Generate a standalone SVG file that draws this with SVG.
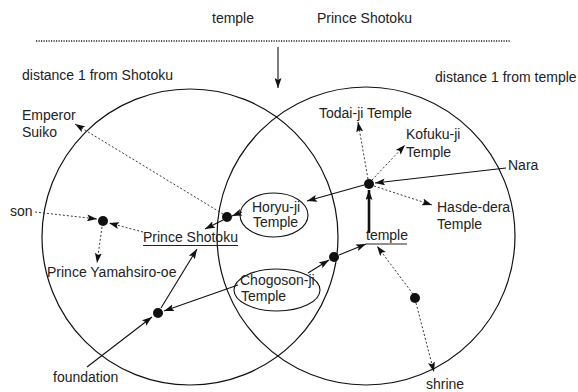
<svg xmlns="http://www.w3.org/2000/svg" width="578" height="392" viewBox="0 0 578 392">
<style>
text{font-family:"Liberation Sans",Arial,sans-serif;font-size:14px;fill:#222}
.c{fill:none;stroke:#111;stroke-width:1.2}
.s{fill:none;stroke:#111;stroke-width:1.1}
.d{fill:none;stroke:#222;stroke-width:0.9;stroke-dasharray:2 2}
.t{fill:none;stroke:#111;stroke-width:2.6}
.dot{fill:#111}
.u{stroke:#222;stroke-width:1}
</style>
<defs>
<marker id="ah" markerWidth="10" markerHeight="7" refX="10" refY="3.5" orient="auto" markerUnits="userSpaceOnUse">
<path d="M0,0 L10,3.5 L0,7 L2,3.5 z" fill="#111"/>
</marker>
</defs>
<g id="header">
<text x="212" y="23">temple</text>
<text x="317" y="23">Prince Shotoku</text>
<line x1="36" y1="41" x2="511" y2="41" stroke="#222" stroke-width="1.3" stroke-dasharray="1.2 1.3"/>
</g>
<g id="regions">
<circle class="c" cx="190" cy="237" r="148"/>
<circle class="c" cx="366" cy="236" r="149"/>
<text x="22" y="80">distance 1 from Shotoku</text>
<text x="435" y="82">distance 1 from temple</text>
</g>
<g id="connectors">
<line class="s" x1="278" y1="47" x2="278" y2="88" marker-end="url(#ah)"/>
<line class="d" x1="223" y1="214" x2="75" y2="124" marker-end="url(#ah)"/>
<line class="d" x1="35" y1="212" x2="97" y2="219" marker-end="url(#ah)"/>
<line class="d" x1="143" y1="232" x2="109" y2="223" marker-end="url(#ah)"/>
<line class="d" x1="102" y1="227" x2="97" y2="263" marker-end="url(#ah)"/>
<line class="s" x1="242" y1="212" x2="232" y2="216" marker-end="url(#ah)"/>
<line class="s" x1="223" y1="220" x2="205" y2="229" marker-end="url(#ah)"/>
<line class="s" x1="506" y1="168" x2="375" y2="183" marker-end="url(#ah)"/>
<line class="s" x1="364" y1="185" x2="307" y2="201" marker-end="url(#ah)"/>
<line class="t" x1="369" y1="233" x2="369" y2="190" marker-end="url(#ah)"/>
<line class="d" x1="368" y1="179" x2="358" y2="122" marker-end="url(#ah)"/>
<line class="d" x1="372" y1="180" x2="405" y2="145" marker-end="url(#ah)"/>
<line class="d" x1="374" y1="186" x2="432" y2="205" marker-end="url(#ah)"/>
<line class="s" x1="238" y1="285" x2="164" y2="311" marker-end="url(#ah)"/>
<line class="s" x1="161" y1="308" x2="197" y2="249" marker-end="url(#ah)"/>
<line class="s" x1="87" y1="367" x2="152" y2="317" marker-end="url(#ah)"/>
<line class="s" x1="308" y1="273" x2="329" y2="260" marker-end="url(#ah)"/>
<line class="s" x1="339" y1="255" x2="366" y2="244" marker-end="url(#ah)"/>
<line class="d" x1="413" y1="294" x2="377" y2="246" marker-end="url(#ah)"/>
<line class="d" x1="416" y1="303" x2="434" y2="372" marker-end="url(#ah)"/>
</g>
<g id="emperor-suiko"><text x="22" y="120">Emperor</text><text x="22" y="137">Suiko</text></g>
<g id="son"><text x="10" y="216">son</text></g>
<g id="son-node"><circle class="dot" cx="103" cy="221" r="5"/></g>
<g id="prince-shotoku"><text x="143" y="242">Prince Shotoku</text><line class="u" x1="143" y1="245.5" x2="238" y2="245.5"/></g>
<g id="prince-yamahsiro-oe"><text x="47" y="277">Prince Yamahsiro-oe</text></g>
<g id="foundation"><text x="53" y="382">foundation</text></g>
<g id="foundation-node"><circle class="dot" cx="158" cy="313" r="5"/></g>
<g id="horyuji-node"><circle class="dot" cx="227" cy="217" r="5"/></g>
<g id="horyuji"><ellipse class="s" cx="274" cy="215" rx="34" ry="22"/><text x="252" y="212">Horyu-ji</text><text x="253" y="227">Temple</text></g>
<g id="chogosonji"><ellipse class="s" cx="277" cy="290" rx="43" ry="21"/><text x="240" y="285">Chogoson-ji</text><text x="241" y="301">Temple</text></g>
<g id="chogosonji-node"><circle class="dot" cx="334" cy="257" r="5"/></g>
<g id="temple"><text x="366" y="240">temple</text><line class="u" x1="366" y1="244" x2="407" y2="244"/></g>
<g id="nara-node"><circle class="dot" cx="369" cy="184" r="5"/></g>
<g id="nara"><text x="508" y="170">Nara</text></g>
<g id="todaiji"><text x="319" y="118">Todai-ji Temple</text></g>
<g id="kofukuji"><text x="406" y="139">Kofuku-ji</text><text x="406" y="157">Temple</text></g>
<g id="hasdedera"><text x="437" y="212">Hasde-dera</text><text x="437" y="229">Temple</text></g>
<g id="shrine-node"><circle class="dot" cx="415" cy="298" r="5"/></g>
<g id="shrine"><text x="426" y="389">shrine</text></g>
</svg>
